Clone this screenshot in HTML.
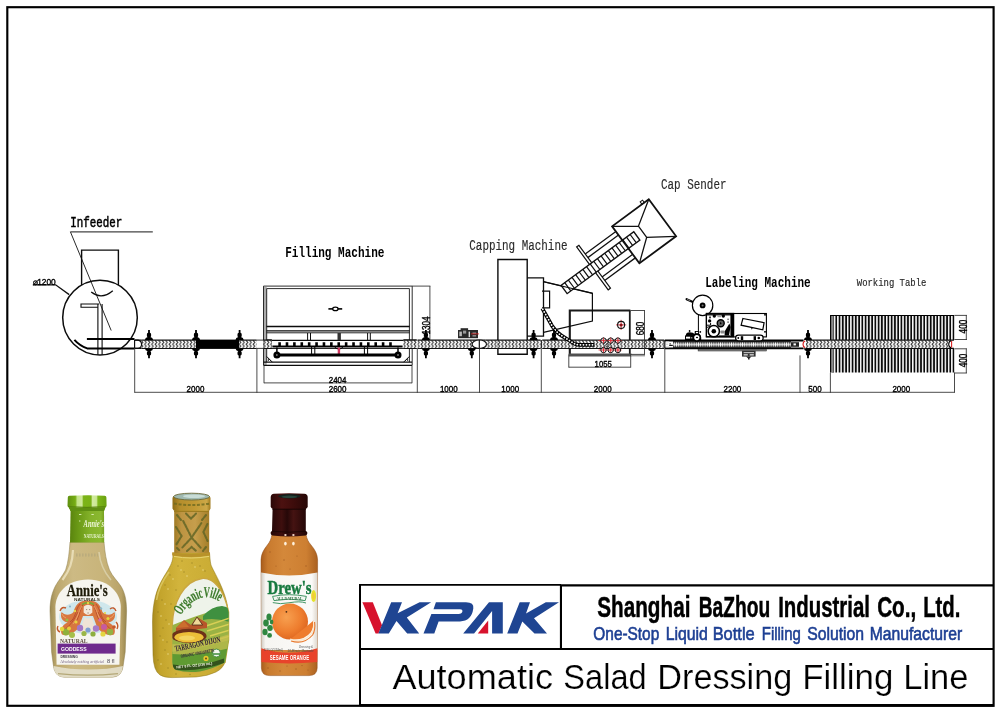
<!DOCTYPE html>
<html lang="en">
<head>
<meta charset="utf-8">
<title>Automatic Salad Dressing Filling Line</title>
<style>
html,body{margin:0;padding:0;background:#fff;}
body{width:1000px;height:715px;overflow:hidden;font-family:"Liberation Sans",sans-serif;}
svg{display:block;will-change:transform;}
.mono{font-family:"Liberation Mono",monospace;}
.serif{font-family:"Liberation Serif",serif;}
.sans{font-family:"Liberation Sans",sans-serif;}
.dim{font-family:"Liberation Sans",sans-serif;font-size:9.2px;fill:#000;stroke:#000;stroke-width:0.38px;}
.ln{stroke:#0c0c0c;stroke-width:1.15;fill:none;}
.thin{stroke:#333;stroke-width:0.88;fill:none;}
</style>
</head>
<body>
<svg width="1000" height="715" viewBox="0 0 1000 715">
<rect x="0" y="0" width="1000" height="715" fill="#ffffff"/>
<!-- frame -->
<g fill="none" stroke="#000">
<rect x="7.3" y="7.2" width="986.3" height="698.6" stroke-width="2.15"/>
<path d="M360,706 V584 " stroke-width="2"/>
<path d="M359,584.85 H561" stroke-width="1.75"/>
<path d="M560,585.4 H993.6" stroke-width="2.4"/>
<path d="M360,648.95 H993.6" stroke-width="1.9"/>
<path d="M560.95,585 V649.2" stroke-width="2.1"/>
<path d="M360,705.3 H993.6" stroke-width="2.6"/>
</g>
<!-- bottles -->
<defs>
<linearGradient id="b1body" x1="0" x2="1" y1="0" y2="0">
<stop offset="0" stop-color="#9c8a54"/><stop offset="0.08" stop-color="#bba66c"/><stop offset="0.3" stop-color="#cdba84"/>
<stop offset="0.7" stop-color="#c8b47a"/><stop offset="0.93" stop-color="#b8a268"/><stop offset="1" stop-color="#98864e"/>
</linearGradient>
<linearGradient id="b1cap" x1="0" x2="1" y1="0" y2="0">
<stop offset="0" stop-color="#5f9010"/><stop offset="0.2" stop-color="#76ad14"/><stop offset="0.25" stop-color="#c4e48a"/><stop offset="0.37" stop-color="#cfe99a"/><stop offset="0.41" stop-color="#7cb418"/>
<stop offset="0.6" stop-color="#7ab216"/><stop offset="0.64" stop-color="#d2eba0"/><stop offset="0.74" stop-color="#cbe794"/><stop offset="0.78" stop-color="#7db81a"/><stop offset="1" stop-color="#6aa010"/>
</linearGradient>
<linearGradient id="b1neck" x1="0" x2="1" y1="0" y2="0">
<stop offset="0" stop-color="#5a840e"/><stop offset="0.25" stop-color="#6b9a16"/><stop offset="0.6" stop-color="#84b22a"/><stop offset="0.9" stop-color="#8ab830"/><stop offset="1" stop-color="#769f20"/>
</linearGradient>
<linearGradient id="b2body" x1="0" x2="1" y1="0" y2="0">
<stop offset="0" stop-color="#a98a1e"/><stop offset="0.1" stop-color="#c3a42c"/><stop offset="0.35" stop-color="#d2b43c"/>
<stop offset="0.8" stop-color="#caac34"/><stop offset="1" stop-color="#b09224"/>
</linearGradient>
<linearGradient id="b2neck" x1="0" x2="1" y1="0" y2="0">
<stop offset="0" stop-color="#a07a24"/><stop offset="0.2" stop-color="#bd9442"/><stop offset="0.6" stop-color="#c69e4c"/><stop offset="1" stop-color="#a47e28"/>
</linearGradient>
<linearGradient id="b2cap" x1="0" x2="1" y1="0" y2="0">
<stop offset="0" stop-color="#8e6c16"/><stop offset="0.2" stop-color="#b58e2c"/><stop offset="0.6" stop-color="#c29a34"/><stop offset="0.9" stop-color="#cda848"/><stop offset="1" stop-color="#a07a1c"/>
</linearGradient>
<linearGradient id="b3body" x1="0" x2="1" y1="0" y2="0">
<stop offset="0" stop-color="#a85c1c"/><stop offset="0.12" stop-color="#c87a2e"/><stop offset="0.4" stop-color="#d4883a"/>
<stop offset="0.8" stop-color="#cd7f32"/><stop offset="1" stop-color="#aa6020"/>
</linearGradient>
<linearGradient id="b3cap" x1="0" x2="1" y1="0" y2="0">
<stop offset="0" stop-color="#2a0807"/><stop offset="0.3" stop-color="#4c1110"/><stop offset="0.6" stop-color="#3e0c0b"/><stop offset="1" stop-color="#260706"/>
</linearGradient>
<linearGradient id="b3neck" x1="0" x2="1" y1="0" y2="0">
<stop offset="0" stop-color="#240707"/><stop offset="0.3" stop-color="#3e0f0e"/><stop offset="0.45" stop-color="#260808"/><stop offset="0.62" stop-color="#451312"/><stop offset="1" stop-color="#200606"/>
</linearGradient>
<linearGradient id="b3label" x1="0" x2="1" y1="0" y2="0">
<stop offset="0" stop-color="#cfc9c0"/><stop offset="0.08" stop-color="#f6f5f1"/><stop offset="0.9" stop-color="#fbfaf8"/><stop offset="1" stop-color="#ddd6cc"/>
</linearGradient>
<radialGradient id="orange" cx="0.4" cy="0.38" r="0.7">
<stop offset="0" stop-color="#f7a050"/><stop offset="0.6" stop-color="#ee7d2e"/><stop offset="1" stop-color="#d9601c"/>
</radialGradient>
<clipPath id="b2clip"><path d="M173,553 C173,560 172,563 168,570 C163,578 158,586 155.5,596 C153.5,604 152.5,612 152.5,622 L153,655 Q153.5,671 160,675 Q164,677.6 172,677.6 L196,677 Q208,676 216,672 Q223,668.5 225,662 L228,640 L228.5,620 C228.5,606 226,598 222,588 C218,578 213,570 211,565 C210,561 210,557 209.5,553 Z"/></clipPath>
<clipPath id="b1lab"><path d="M56.6,664.8 L55.4,607 C55.6,594 66,579.8 88,579.6 C110,579.8 120.6,594 120.8,607 L119.4,664.8 Z"/></clipPath>
<clipPath id="b2lab"><path d="M172.4,624 C173,604 183,581 202,578.5 C214,577.5 224,590 228.6,612 L228.6,640 L225,662.5 Q214,668.5 200,671.5 Q186,673 176,670 Q172.6,668.5 172.4,662 Z"/></clipPath>
</defs>
<g>
<path d="M70,542 L104,542 C104.8,552 106,561 109.5,570 C112.5,576.5 117.5,581 120.8,586 C124.5,592 126.6,599 126.6,611 L125.2,652 L123.4,664 Q122.4,677.2 112,677.2 L64.5,677.2 Q54.2,677.2 53.2,664 L51.6,652 L50,611 C50,599 52.4,592 55.4,586 C58.4,580.5 62.5,576 65.6,570 C68.4,562 69.3,552 70,542 Z" fill="url(#b1body)" stroke="#8c7c4a" stroke-width="0.7" stroke-opacity="0.7"/>
<path d="M53.6,666 Q70,669.5 88,669.5 Q108,669.5 123,666 Q122,677.2 112,677.2 L64.5,677.2 Q54.4,677.2 53.6,666 Z" fill="#e4e0cc" opacity="0.9"/>
<path d="M58,673.6 Q88,676.8 118,673.6" stroke="#b4a878" stroke-width="1.2" fill="none"/>
<path d="M73,550 C72.5,562 70,570 62.5,580" stroke="#ece2be" stroke-width="2.2" fill="none" opacity="0.85"/>
<path d="M99,552 C100,563 103,571 111,580" stroke="#e0d8b8" stroke-width="1.6" fill="none" opacity="0.7"/>
<path d="M76,555 h22" stroke="#b3a67c" stroke-width="3" stroke-dasharray="1.6 1.4" fill="none" opacity="0.7"/>
<path d="M70.6,510 L104,510 L104.2,542.6 L70,542.6 Z" fill="url(#b1neck)"/>
<path d="M67.8,497.4 Q67.8,495.9 69.4,495.8 Q87,494.8 104.8,495.7 Q106.4,495.8 106.4,497.4 L106.6,505.8 Q106.4,507 105.4,507.4 L104,511 L70.6,511 L68.8,507.4 Q67.6,507 67.5,505.8 Z" fill="url(#b1cap)"/>
<path d="M68.8,507.4 L70.6,511 L104,511 L105.4,507.4 Z" fill="#5f8f12"/>
<path d="M68.6,506.7 Q87,508 105.4,506.7" stroke="#55800c" stroke-width="1" fill="none"/>
<text x="83.6" y="527.4" class="serif" font-size="10.6" font-weight="bold" font-style="italic" fill="#eef6d8" textLength="20.4" lengthAdjust="spacingAndGlyphs">Annie&#39;s</text>
<text x="83.8" y="538.2" class="serif" font-size="5.4" font-weight="bold" fill="#e6f1cf" textLength="20" lengthAdjust="spacingAndGlyphs">NATURALS</text>
<path d="M79,514.5 h2.4 M91.4,514.5 h2.4 M79,521 h1.4" stroke="#d4e9a8" stroke-width="1.1"/>
<path d="M56.6,664.8 L55.4,607 C55.6,594 66,579.8 88,579.6 C110,579.8 120.6,594 120.8,607 L119.4,664.8 Z" fill="#f6f5ef"/>
<g clip-path="url(#b1lab)">
<ellipse cx="88" cy="617" rx="29" ry="17" fill="#cfe7ec"/>
<path d="M88,600.6 C79,600 75,606 73.6,612 C70,616 64,615 61.6,612 C59.6,617 62.6,622 67.6,622.4 C62,625 59.6,630 62,634.6 C68,636.6 74,633 78.6,628 L83,616 L93,616 L97.4,628 C102,633 108,636.6 114,634.6 C116.4,630 114,625 108.4,622.4 C113.4,622 116.4,617 114.4,612 C112,615 106,616 102.4,612 C101,606 97,600 88,600.6 Z" fill="#d8773f"/>
<g stroke="#b4452a" stroke-width="0.9" fill="none" opacity="0.9"><path d="M80,604 C75,610 76,618 70,622 M96,604 C101,610 100,618 106,622 M78,612 C74,620 70,626 64,630 M98,612 C102,620 106,626 112,630 M84,603 C80,608 80,614 77,620 M92,603 C96,608 96,614 99,620"/></g>
<g stroke="#f1b27c" stroke-width="0.8" fill="none" opacity="0.9"><path d="M82,606 C78,612 78,618 73,624 M94,606 C98,612 98,618 103,624 M66,618 q-3,-1 -4,-4 M110,618 q3,-1 4,-4"/></g>
<path d="M60,611 q2,-5 6,-3 M110,609 q4,-3 6,2 M58,626 q-2,4 2,6 M116,622 q3,3 1,7" stroke="#c25a2c" stroke-width="1.4" fill="none"/>
<path d="M83.8,606.4 Q88,603.2 92.2,606.4 L92.4,612.6 Q88,617.4 83.6,612.6 Z" fill="#f3e8da"/>
<path d="M86,609.6 h1.2 M89,609.6 h1.2 M87.4,613 h1.4" stroke="#6a4a3a" stroke-width="0.6"/>
<path d="M84.5,617 L79.6,632 L96.4,632 L91.5,617 Q88,620 84.5,617 Z" fill="#efe4d6"/>
<path d="M82,604.4 q6,-3.6 12,0" stroke="#7aa838" stroke-width="1.6" fill="none"/>
<circle cx="88" cy="603" r="1.2" fill="#e8d040"/>
<circle cx="66" cy="632" r="3.4" fill="#8fb03c"/>
<circle cx="72" cy="635" r="3" fill="#a5bf4a"/>
<circle cx="62" cy="629" r="2.2" fill="#e6d83a"/>
<circle cx="69" cy="628.5" r="2" fill="#e7cf3c"/>
<circle cx="80" cy="628" r="3.2" fill="#a377c6"/>
<circle cx="96" cy="628.5" r="3.2" fill="#a77bc8"/>
<circle cx="88" cy="630" r="2.6" fill="#7f9fd0"/>
<circle cx="84" cy="633.5" r="2.6" fill="#9bb648"/>
<circle cx="93" cy="634" r="2.6" fill="#8eae3e"/>
<circle cx="104" cy="627" r="3" fill="#c65aa0"/>
<circle cx="110" cy="632" r="3.2" fill="#94b242"/>
<circle cx="103" cy="634" r="2.6" fill="#e3d640"/>
<circle cx="76" cy="622" r="1.6" fill="#e8d23e"/>
<circle cx="100" cy="620" r="1.8" fill="#d66aa8"/>
<circle cx="108" cy="618.5" r="1.6" fill="#e4d43c"/>
<circle cx="67" cy="620" r="1.5" fill="#9cbc44"/>
<circle cx="114" cy="627" r="1.8" fill="#c45a2c"/>
<circle cx="75" cy="611" r="1.2" fill="#e8d84a"/>
<circle cx="101" cy="608.5" r="1.2" fill="#8cb8c8"/>
<circle cx="70" cy="606.5" r="1" fill="#88b0c4"/>
<circle cx="105" cy="613" r="1.1" fill="#e6d646"/>
</g>
<text x="66.8" y="596.4" class="serif" font-size="16.4" font-weight="bold" fill="#1d1a08" stroke="#1d1a08" stroke-width="0.3" textLength="41" lengthAdjust="spacingAndGlyphs">Annie&#39;s</text>
<text x="74" y="601.2" class="sans" font-size="3.4" font-weight="bold" fill="#3c3a2a" textLength="26" lengthAdjust="spacingAndGlyphs">NATURALS</text>
<text x="60" y="642.6" class="serif" font-size="6" font-weight="bold" fill="#5b4a40" textLength="27.6" lengthAdjust="spacingAndGlyphs">NATURAL</text>
<rect x="57.6" y="643.6" width="58" height="10" fill="#6f2b8d"/>
<text x="61" y="651.4" class="sans" font-size="6" font-weight="bold" fill="#fff" textLength="25.6" lengthAdjust="spacingAndGlyphs">GODDESS</text>
<text x="60.4" y="657.8" class="sans" font-size="2.8" font-weight="bold" fill="#3a3440" textLength="17.4" lengthAdjust="spacingAndGlyphs">DRESSING</text>
<text x="60.2" y="662.6" class="serif" font-size="4.6" font-style="italic" fill="#6d5a7e" textLength="43.6" lengthAdjust="spacingAndGlyphs">Absolutely nothing artificial</text>
<text x="107" y="662.6" class="sans" font-size="4.6" fill="#4a4450" textLength="7.6" lengthAdjust="spacingAndGlyphs">8 fl</text>
</g>
<g>
<path d="M173,553 C173,560 172,563 168,570 C163,578 158,586 155.5,596 C153.5,604 152.5,612 152.5,622 L153,655 Q153.5,671 160,675 Q164,677.6 172,677.6 L196,677 Q208,676 216,672 Q223,668.5 225,662 L228,640 L228.5,620 C228.5,606 226,598 222,588 C218,578 213,570 211,565 C210,561 210,557 209.5,553 Z" fill="url(#b2body)" stroke="#8a7212" stroke-width="0.7" stroke-opacity="0.7"/>
<g fill="#7a6a18" opacity="0.55"><circle cx="165" cy="585" r="0.7"/><circle cx="170" cy="575" r="0.7"/><circle cx="178" cy="566" r="0.7"/><circle cx="184" cy="572" r="0.7"/><circle cx="192" cy="563" r="0.7"/><circle cx="200" cy="566" r="0.7"/><circle cx="162" cy="600" r="0.7"/><circle cx="158" cy="612" r="0.7"/><circle cx="166" cy="620" r="0.7"/><circle cx="160" cy="636" r="0.7"/><circle cx="165" cy="650" r="0.7"/><circle cx="158" cy="660" r="0.7"/><circle cx="168" cy="668" r="0.7"/><circle cx="176" cy="674" r="0.7"/><circle cx="190" cy="674.5" r="0.7"/><circle cx="182" cy="561" r="0.7"/><circle cx="205" cy="571" r="0.7"/><circle cx="176" cy="590" r="0.7"/><circle cx="171" cy="604" r="0.7"/><circle cx="163" cy="628" r="0.7"/><circle cx="167" cy="642" r="0.7"/></g>
<g fill="#f0e6a0" opacity="0.8"><circle cx="168" cy="589" r="0.7"/><circle cx="173" cy="579" r="0.7"/><circle cx="181" cy="570" r="0.7"/><circle cx="187" cy="576" r="0.7"/><circle cx="195" cy="567" r="0.7"/><circle cx="203" cy="570" r="0.7"/><circle cx="165" cy="604" r="0.7"/><circle cx="161" cy="616" r="0.7"/><circle cx="169" cy="624" r="0.7"/><circle cx="163" cy="640" r="0.7"/><circle cx="168" cy="654" r="0.7"/><circle cx="161" cy="664" r="0.7"/></g>
<path d="M156.6,600 C158,590 163,580 169,572" stroke="#e2d070" stroke-width="1.6" fill="none" opacity="0.7"/>
<rect x="174.2" y="510" width="35" height="43" fill="url(#b2neck)"/>
<g stroke="#5f6424" stroke-width="2.1" fill="none" opacity="0.82" stroke-dasharray="3 1.3" stroke-linecap="round">
<path d="M183.2,521 L191.6,537.6 L201.4,523 M191.6,537.6 L182.4,547.4 M191.6,537.6 L200.6,547.6 M176,527 L181.6,536 L176,545 M207.4,524 L203.4,532 L207.6,541 M177,548 l3,3 M206,547 l-3,4 M186,513.6 l5,5 l5,-5 M177,515 l4,5 M206,515 l-4,5 M187,551 l4.6,-4 l4.6,4"/>
</g>
<path d="M172.2,552.2 Q191,555.6 210,552.2 L210,555.4 Q191,558.6 172.2,555.4 Z" fill="#b8922a"/>
<path d="M174,556.4 Q191,559.6 209,556.4" stroke="#e8d474" stroke-width="1" fill="none"/>
<path d="M172.5,498 Q172.5,496 175,495.6 L208,495.6 Q210.5,496 210.5,498 L210.5,508.6 Q210,510.8 208,511 L175.6,511 Q173,510.8 172.5,508.6 Z" fill="url(#b2cap)"/>
<path d="M174,503.5 Q192,506.6 210,503.5" stroke="#6e6a20" stroke-width="2" fill="none" stroke-dasharray="3 1.6" opacity="0.8"/>
<path d="M174,511.4 H209" stroke="#9a7a1e" stroke-width="1"/>
<ellipse cx="191.6" cy="496.6" rx="18" ry="3.4" fill="#9fb9b0" stroke="#6c6a3a" stroke-width="0.9"/>
<ellipse cx="194" cy="496.2" rx="11" ry="1.8" fill="#c8dcd6"/>
<path d="M172.4,624 C173,604 183,581 202,578.5 C214,577.5 224,590 228.6,612 L228.6,640 L225,662.5 Q214,668.5 200,671.5 Q186,673 176,670 Q172.6,668.5 172.4,662 Z" fill="#eef3ea" stroke="#caa640" stroke-width="1.3"/>
<g clip-path="url(#b2lab)">
<path d="M170,626 Q190,618 206,613 Q220,610 230,612 L230,660 L170,668 Z" fill="#9ab244"/>
<path d="M203,616 Q212,606 222,606 Q228,607 230,610 L230,622 Q214,617 203,620 Z" fill="#3f9040"/>
<g stroke="#d9cf55" stroke-width="1.4" fill="none"><path d="M206,626 L230,618 M207,631 L230,624 M210,636 L230,630 M213,641 L230,636"/></g>
<path d="M176,628 L184,620 L191,625 L197,617 L207,623 L207,628 L176,632 Z" fill="#b8562a"/>
<path d="M192,625 L197,617 L202.6,625 Z" fill="#efd898" stroke="#4a2a14" stroke-width="0.8"/>
<path d="M176,628 L184,621 L189,627" fill="#cc6e2e"/>
<ellipse cx="189" cy="636" rx="17.6" ry="7.2" fill="#6e3218"/>
<ellipse cx="189" cy="637.2" rx="14.6" ry="5.2" fill="#ecbf38"/>
<ellipse cx="187" cy="638" rx="8" ry="2.6" fill="#f3d560"/>
<path d="M170,652 Q196,650 230,640 L230,668 L170,676 Z" fill="#5f9a32"/>
<path d="M170,644 Q196,646 230,634 L230,648 Q200,656 170,654 Z" fill="#c8c050" opacity="0.75"/>
<circle cx="206" cy="658.4" r="2.6" fill="#e9c52e"/><circle cx="206" cy="658.4" r="1" fill="#6a4a14"/>
<circle cx="216.4" cy="653" r="4" fill="#f4f6ee" stroke="#3f8a3a" stroke-width="0.9"/>
<path d="M213,654 h7" stroke="#3f8a3a" stroke-width="1.4"/>
<path d="M173,664.6 Q198,668 224,658.6 L224,663 Q198,672.6 173,669.6 Z" fill="#33521c"/>
</g>
<path id="ovArc" d="M179.6,617.4 Q189.6,599.6 204.6,597 Q214,596.6 222,603.6" fill="none"/>
<text class="serif" font-size="15" font-weight="bold" fill="#3b7a2a" stroke="#3b7a2a" stroke-width="0.2"><textPath href="#ovArc" startOffset="2.4" textLength="46.6" lengthAdjust="spacingAndGlyphs">OrganicVille</textPath></text>
<text transform="translate(175.4,651.6) rotate(-12)" class="serif" font-size="8.4" font-weight="bold" fill="#2e2036" textLength="46.4" lengthAdjust="spacingAndGlyphs">TARRAGON DIJON</text>
<text transform="translate(181,657.8) rotate(-10)" class="sans" font-size="4.6" font-weight="bold" fill="#33263a" textLength="34" lengthAdjust="spacingAndGlyphs">ORGANIC VINAIGRETTE</text>
<text transform="translate(176.6,668.4) rotate(-6)" class="sans" font-size="3.6" font-weight="bold" fill="#f2f2e2" textLength="36" lengthAdjust="spacingAndGlyphs">NET 8 FL OZ (236 mL)</text>
</g>
<g>
<path d="M272,534 L306,534 C306.6,539 308.5,542 311,545 C314.6,549.4 317.4,553.5 317.6,560 L317.2,668 Q317,675.6 309,675.6 L269.6,675.6 Q261.6,675.6 261.4,668 L261,560 C261.2,553.5 264,549.4 267.4,545 C269.8,542 271.4,539 272,534 Z" fill="url(#b3body)" stroke="#8a4812" stroke-width="0.7" stroke-opacity="0.7"/>
<g fill="#8a4a1a" opacity="0.6"><circle cx="270" cy="552" r="0.7"/><circle cx="284" cy="560" r="0.7"/><circle cx="297" cy="556" r="0.6"/><circle cx="306" cy="566" r="0.7"/><circle cx="276" cy="566" r="0.6"/><circle cx="290" cy="569" r="0.6"/><circle cx="268" cy="668" r="0.7"/><circle cx="280" cy="671" r="0.7"/><circle cx="296" cy="669" r="0.7"/><circle cx="308" cy="670" r="0.6"/><circle cx="287" cy="666" r="0.6"/><circle cx="302" cy="665.6" r="0.6"/></g>
<ellipse cx="285.4" cy="543.6" rx="1.3" ry="1.9" fill="#fff1dc"/><ellipse cx="293.4" cy="543.6" rx="1.3" ry="1.9" fill="#fff1dc"/>
<path d="M272.6,508.4 H305.8 V531 Q307.4,531.4 307.4,533 Q307.4,535 305.6,535.4 Q289,537.6 272.4,535.4 Q270.6,535 270.6,533 Q270.6,531.4 272,531 Z" fill="url(#b3neck)"/>
<path d="M272.4,531.4 Q289,533 305.6,531.4" stroke="#1c0605" stroke-width="0.9" fill="none"/>
<ellipse cx="285.4" cy="535" rx="1.2" ry="0.9" fill="#f2d6c8"/><ellipse cx="293.4" cy="535" rx="1.2" ry="0.9" fill="#f2d6c8"/>
<path d="M270.7,497 Q270.9,494.2 274,493.8 Q289,492.6 304.4,493.8 Q307.5,494.2 307.7,497 L307.7,506.6 Q307.5,508.6 305.6,509 L273,509 Q270.9,508.6 270.7,506.6 Z" fill="url(#b3cap)"/>
<ellipse cx="289.4" cy="496.2" rx="11.4" ry="2.2" fill="#14201c"/>
<ellipse cx="289.4" cy="496.8" rx="8" ry="1.2" fill="#27443a"/>
<path d="M272.4,509.2 H306" stroke="#1a0504" stroke-width="1"/>
<path d="M261.1,572.6 Q289,578.6 317.5,572.6 L317.3,650 L261.3,650 Z" fill="url(#b3label)"/>
<path d="M261.3,648.2 Q289,657.4 317.3,648.2 L317.2,662 Q289,664.8 261.4,662 Z" fill="#e8432b"/>
<path d="M261.3,648.8 L261.3,650.4 L317.3,650.4 L317.3,648.8 Z" fill="#e8432b" opacity="0"/>
<text x="269.8" y="660.3" class="sans" font-size="6.4" font-weight="bold" fill="#fff" textLength="39.4" lengthAdjust="spacingAndGlyphs">SESAME ORANGE</text>
<text x="264" y="651.2" class="sans" font-size="3.4" fill="#4a4a4a" textLength="19" lengthAdjust="spacingAndGlyphs">12 FL OZ (354mL)</text>
<text x="287.6" y="651.6" class="sans" font-size="3.6" font-style="italic" fill="#4a4a4a" textLength="26" lengthAdjust="spacingAndGlyphs">10-Minute Marinade</text>
<text x="299" y="647.6" class="sans" font-size="3.6" font-style="italic" fill="#555" textLength="14" lengthAdjust="spacingAndGlyphs">Dressing &amp;</text>
<text x="267.6" y="593.6" class="serif" font-size="19" font-weight="bold" fill="#17793f" stroke="#17793f" stroke-width="0.5" textLength="44" lengthAdjust="spacingAndGlyphs">Drew&#39;s</text>
<path d="M272.6,596.4 Q289,593 306.4,596.4 L305.2,600.6 Q289,597.6 274,600.6 Z" fill="#f3f7f1" stroke="#2f8a55" stroke-width="0.9"/>
<path d="M272.8,602.6 Q280,604.6 289,602.8 Q300,600.8 306,603" stroke="#2f8a55" stroke-width="0.9" fill="none"/>
<text x="276.4" y="599.6" class="serif" font-size="3.8" font-weight="bold" fill="#2a6a3c" textLength="26" lengthAdjust="spacingAndGlyphs">ALL NATURAL</text>
<ellipse cx="313.6" cy="596" rx="2.5" ry="6" fill="#e6e32c"/><ellipse cx="313.4" cy="596" rx="1.2" ry="3.6" fill="#f3c83a"/>
<circle cx="290" cy="621.6" r="18" fill="url(#orange)"/>
<circle cx="286.4" cy="611.8" r="0.9" fill="#4a2a12"/>
<path d="M290.4,639.2 Q304,641 311,632 Q314,627 313.6,620.6 Q305,628 290.4,639.2 Z" fill="#ee7c2e"/>
<path d="M290,639.2 Q303,643.4 311,634 Q314.4,629 313.6,621" stroke="#fbe9d0" stroke-width="1.3" fill="none"/>
<path d="M291,641 Q304,645 312.6,635 Q315.6,630 314.6,622" stroke="#e8772a" stroke-width="1.1" fill="none"/>
<g fill="#2f8740"><ellipse cx="269" cy="617" rx="2.6" ry="3.6"/><ellipse cx="266" cy="623" rx="2.8" ry="3.4"/><ellipse cx="270" cy="628" rx="2.8" ry="3"/><ellipse cx="265" cy="632" rx="2.6" ry="3.2"/><ellipse cx="269.6" cy="635.4" rx="2.4" ry="2.4"/><ellipse cx="271.6" cy="622" rx="1.8" ry="2.4"/></g>
</g>
<!-- technical drawing -->
<defs>
<pattern id="chain" x="0.2" y="340.1" width="3.5" height="8.3" patternUnits="userSpaceOnUse">
<rect width="3.5" height="8.3" fill="#fff"/>
<path d="M0.9,0.4 L2.6,2.3 L0.9,4.15 L2.6,6 L0.9,7.9" stroke="#262626" stroke-width="1" fill="none"/>
</pattern>
<pattern id="belt" x="0" y="340.1" width="2.2" height="8.3" patternUnits="userSpaceOnUse">
<rect width="2.2" height="8.4" fill="#444"/>
<path d="M1.1,1.9 L2.1,4.4 L1.1,6.9 L0.1,4.4 Z" fill="#fafafa"/>
</pattern>
<pattern id="bars" x="830.62" y="315" width="3.257" height="10" patternUnits="userSpaceOnUse">
<rect width="3.257" height="10" fill="#fafafa"/>
<rect x="1.5" width="1.76" height="10" fill="#0a0a0a"/>
</pattern>
</defs>
<text class="mono" x="70.2" y="226.6" font-size="13.8" font-weight="normal" fill="#000" stroke="#000" stroke-width="0.5" textLength="52" lengthAdjust="spacingAndGlyphs">Infeeder</text>
<text class="mono" x="285.2" y="257.4" font-size="13.8" font-weight="bold" fill="#000" textLength="99.2" lengthAdjust="spacingAndGlyphs">Filling Machine</text>
<text class="mono" x="469.3" y="250" font-size="13.8" font-weight="normal" fill="#2a2a2a" stroke="#2a2a2a" stroke-width="0.15" textLength="98.2" lengthAdjust="spacingAndGlyphs">Capping Machine</text>
<text class="mono" x="661" y="189" font-size="13.8" font-weight="normal" fill="#2a2a2a" stroke="#2a2a2a" stroke-width="0.15" textLength="65.5" lengthAdjust="spacingAndGlyphs">Cap Sender</text>
<text class="mono" x="705.2" y="287.4" font-size="13.8" font-weight="bold" fill="#000" textLength="105.5" lengthAdjust="spacingAndGlyphs">Labeling Machine</text>
<text class="mono" x="856.8" y="285.7" font-size="10.9" font-weight="normal" fill="#262626" stroke="#262626" stroke-width="0.15" textLength="69.6" lengthAdjust="spacingAndGlyphs">Working Table</text>
<g class="ln">
<path d="M70.4,231.8 H152.8" stroke-width="1.3" stroke="#444"/>
<path d="M70.4,231.8 L111.2,330.5" stroke-width="1" stroke="#2a2a2a"/>
<path d="M81.6,284.9 V250.1 H118.4 V284.9" stroke-width="1.4"/>
<circle cx="100" cy="317.6" r="37.3" stroke-width="1.5"/>
<path d="M91.2,292 Q101.6,300.2 112.8,290.7" stroke-width="1.3"/>
<path d="M99.2,304 H81 V307.2 H97.9" stroke-width="1.1"/>
<path d="M97.9,304 V354.7 M102.1,304 V354.7" stroke-width="1.1"/>
<path d="M86.9,339 H134.5" stroke-width="2" stroke="#000"/>
<path d="M74.4,339.8 Q79.4,345.4 87.2,348.4 H134.5" stroke-width="2" stroke="#000"/>
<path d="M32.8,284.8 H55.6 L69.2,294.6" stroke-width="1.3" stroke="#111"/>
</g>
<text class="dim" x="32.6" y="284.6" font-size="8.4" textLength="23.2" lengthAdjust="spacingAndGlyphs">⌀1200</text>
<path d="M569.8,354.4 V310.5 H630.4" stroke="#1a1a1a" stroke-width="2.1" fill="none"/>
<path d="M629.8,310.5 V354.4" stroke="#1a1a1a" stroke-width="1.8" fill="none"/>
<rect x="141.5" y="340.1" width="54.50" height="8.30" fill="url(#chain)"/><path d="M141.5,340.1 H196 M141.5,348.4 H196" stroke="#111" stroke-width="1.05" fill="none"/>
<path d="M134.6,340.1 V348.4 M134.6,340.1 H138 A4.2,4.2 0 0 1 138,348.4 H134.6" class="ln" stroke-width="1.1"/>
<path d="M134.6,340.1 H141.5 M134.6,348.4 H141.5" class="ln" stroke-width="1.1"/>
<rect x="196" y="339.6" width="43.4" height="9.299999999999955" fill="#000"/>
<rect x="239.4" y="340.1" width="17.20" height="8.30" fill="url(#chain)"/><path d="M239.4,340.1 H256.6 M239.4,348.4 H256.6" stroke="#111" stroke-width="1.05" fill="none"/>
<path d="M256.6,340.1 H263.6 M256.6,348.4 H263.6" stroke="#222" stroke-width="0.9" fill="none"/>
<rect x="263.6" y="340.1" width="8.20" height="8.30" fill="url(#chain)"/><path d="M263.6,340.1 H271.8 M263.6,348.4 H271.8" stroke="#111" stroke-width="1.05" fill="none"/>
<rect x="403.5" y="340.1" width="13.20" height="8.30" fill="url(#chain)"/><path d="M403.5,340.1 H416.7 M403.5,348.4 H416.7" stroke="#111" stroke-width="1.05" fill="none"/>
<rect x="417.5" y="340.1" width="56.50" height="8.30" fill="url(#chain)"/><path d="M417.5,340.1 H474 M417.5,348.4 H474" stroke="#111" stroke-width="1.05" fill="none"/>
<rect x="485.5" y="340.1" width="55.10" height="8.30" fill="url(#chain)"/><path d="M485.5,340.1 H540.6 M485.5,348.4 H540.6" stroke="#111" stroke-width="1.05" fill="none"/>
<rect x="542.2" y="340.1" width="122.00" height="8.30" fill="url(#chain)"/><path d="M542.2,340.1 H664.2 M542.2,348.4 H664.2" stroke="#111" stroke-width="1.05" fill="none"/>
<path d="M541.4,340.1 V348.4" stroke="#111" stroke-width="1"/>
<path d="M474,340.1 H485.5 M474,348.4 H485.5" class="ln" stroke-width="1.1"/>
<ellipse cx="479.3" cy="344.25" rx="7.2" ry="4.2" fill="#fff" stroke="#111" stroke-width="1.1"/>
<path d="M479.3,340.1 V348.4" class="ln" stroke-width="1"/>
<rect x="664.8" y="339.5" width="139" height="9.699999999999955" fill="#fff"/>
<rect x="673" y="340.1" width="118" height="8.299999999999955" fill="url(#belt)"/>
<path d="M664.8,340.40000000000003 H803.6" stroke="#000" stroke-width="2" fill="none"/>
<path d="M664.8,348.29999999999995 H803.6" stroke="#000" stroke-width="1.8" fill="none"/>
<rect x="665.6" y="341.3" width="3.6" height="1" fill="#cfcfcf"/><rect x="665.6" y="346.4" width="3.6" height="1" fill="#cfcfcf"/><rect x="666" y="343.6" width="2.2" height="1.3" fill="#d8d8d8"/><rect x="669.2" y="344.8" width="3.6" height="1.2" fill="#111"/><rect x="669.4" y="343.4" width="1.6" height="1" fill="#333"/>
<rect x="791" y="342.2" width="8" height="4.6" fill="#222"/><rect x="793.5" y="343.4" width="2.4" height="2" fill="#fff"/>
<path d="M664.8,340.1 V348.4" class="ln"/>
<rect x="806" y="340.1" width="24.20" height="8.30" fill="url(#chain)"/><path d="M806,340.1 H830.2 M806,348.4 H830.2" stroke="#111" stroke-width="1.05" fill="none"/>
<rect x="830.2" y="315.2" width="124.3" height="24.900000000000034" fill="url(#bars)"/>
<rect x="830.2" y="348.4" width="124.3" height="24.100000000000023" fill="url(#bars)"/>
<rect x="830.2" y="315.2" width="3.4" height="24.900000000000034" fill="#8a8a8a"/>
<rect x="830.2" y="348.4" width="3.4" height="24.100000000000023" fill="#8a8a8a"/>
<path d="M830.6,340.1 V315.5 H954 " stroke="#000" stroke-width="1.1" fill="none"/>
<path d="M830.6,348.4 V372.5" stroke="#000" stroke-width="1.1" fill="none"/>
<rect x="830.2" y="340.1" width="117.80" height="8.30" fill="url(#chain)"/><path d="M830.2,340.1 H948 M830.2,348.4 H948" stroke="#111" stroke-width="1.05" fill="none"/>
<path d="M948,340.1 H953.9 M948,348.4 H953.9" class="ln" stroke-width="1.1"/>
<path d="M951.3,340.5 A3.6,3.9 0 0 0 951.3,348.0" stroke="#000" stroke-width="1.1" fill="#fff"/>
<path d="M951.6,340.90000000000003 V347.59999999999997" stroke="#d22" stroke-width="1.1" fill="none"/>
<path d="M805.2,340.70000000000005 A3.4,3.8 0 0 0 805.2,347.79999999999995" stroke="#d22" stroke-width="1.2" fill="#fff"/>
<rect x="263.4" y="287" width="3.3" height="78" fill="#ababab"/>
<g class="ln" stroke="#111">
<path d="M263.5,365.4 V286.1 H412.2 V365.4" stroke-width="0.95" stroke="#222"/>
<path d="M266.7,362.2 V288.6 H409.4 V362.2" stroke-width="0.95" stroke="#222"/>
<path d="M266.5,326.5 H409.6 M266.5,330.8 H409.6" stroke-width="1.3"/>
<path d="M266.5,332.8 H409.6" stroke-width="0.9"/>
<path d="M266.5,340.40000000000003 H409.6" stroke-width="1.1"/>
<path d="M266.5,348.5 H409.6" stroke-width="0.9"/>
<path d="M307.6,333 V340 M310.5,333 V340 M367.6,333 V340 M370.3,333 V340" stroke-width="1"/>
<path d="M263.6,362.2 H412 M263.6,365.4 H412" stroke-width="1.2"/>
<path d="M266.6,356.4 L272.4,362.2 M409.4,356.4 L403.6,362.2" stroke-width="1"/>
<path d="M268.4,361 V358.4 L271,361 M407.6,361 V358.4 L405,361" stroke-width="0.8"/>
</g>
<rect x="337.5" y="333" width="3.4" height="7" fill="#333"/>
<rect x="263.4" y="340.1" width="8.40" height="8.30" fill="url(#chain)"/><path d="M263.4,340.1 H271.8 M263.4,348.4 H271.8" stroke="#111" stroke-width="1.05" fill="none"/>
<rect x="403.5" y="340.1" width="13.20" height="8.30" fill="url(#chain)"/><path d="M403.5,340.1 H416.7 M403.5,348.4 H416.7" stroke="#111" stroke-width="1.05" fill="none"/>
<path d="M328.4,308.9 H342.2" stroke="#000" stroke-width="1.6"/>
<ellipse cx="335.4" cy="308.9" rx="2.7" ry="1.7" fill="#fff" stroke="#000" stroke-width="1.2"/>
<path d="M272.4,346.5 H402.6" stroke="#000" stroke-width="1.9"/>
<path d="M278.30,342.3 h2.6 v4 h-2.6 z M285.69,342.3 h2.6 v4 h-2.6 z M293.09,342.3 h2.6 v4 h-2.6 z M300.48,342.3 h2.6 v4 h-2.6 z M307.87,342.3 h2.6 v4 h-2.6 z M315.26,342.3 h2.6 v4 h-2.6 z M322.66,342.3 h2.6 v4 h-2.6 z M330.05,342.3 h2.6 v4 h-2.6 z M337.44,342.3 h2.6 v4 h-2.6 z M344.84,342.3 h2.6 v4 h-2.6 z M352.23,342.3 h2.6 v4 h-2.6 z M359.62,342.3 h2.6 v4 h-2.6 z M367.02,342.3 h2.6 v4 h-2.6 z M374.41,342.3 h2.6 v4 h-2.6 z M381.80,342.3 h2.6 v4 h-2.6 z M389.19,342.3 h2.6 v4 h-2.6 z" fill="#000"/>
<path d="M311.6,346.4 V354.6 M314.8,346.4 V354.6 M364.4,346.4 V354.6 M367.6,346.4 V354.6" stroke="#000" stroke-width="1"/>
<path d="M334.5,346.8 Q336,349 338.8,349 Q341.6,349 343,346.8" stroke="#000" stroke-width="1" fill="none"/>
<path d="M338.9,347.6 V355.4" stroke="#d23a62" stroke-width="2.4"/>
<path d="M277,355 H398" stroke="#000" stroke-width="2.8"/>
<path d="M276.9,347.4 V352" stroke="#000" stroke-width="1.5"/>
<circle cx="276.9" cy="354.9" r="3.5" fill="#000"/><ellipse cx="276.9" cy="355" rx="0.55" ry="1" fill="#c8c8c8"/>
<path d="M398,347.4 V352" stroke="#000" stroke-width="1.5"/>
<circle cx="398" cy="354.9" r="3.5" fill="#000"/><ellipse cx="398" cy="355" rx="0.55" ry="1" fill="#c8c8c8"/>
<path d="M412,286.1 H430.4 M429.9,286.1 V340" class="thin"/>
<text class="dim" transform="translate(430.3,325.4) rotate(-90)" text-anchor="middle" textLength="18" lengthAdjust="spacingAndGlyphs" style="font-size:10px">1304</text>
<g>
<rect x="458" y="330" width="20" height="8.2" fill="#2a2a2a"/>
<rect x="460.6" y="328.2" width="7.5" height="3" fill="#2a2a2a"/>
<rect x="459.3" y="331.6" width="2.6" height="4.6" fill="#bbb"/>
<rect x="463" y="330.6" width="3.2" height="3" fill="#999"/>
<rect x="468.6" y="331.6" width="1.4" height="5.6" fill="#ddd"/>
<rect x="472.5" y="332.4" width="3.6" height="1.6" fill="#888"/>
<rect x="472.5" y="335" width="3.6" height="1.6" fill="#888"/>
<path d="M471,333.9 H479" stroke="#d22" stroke-width="0.8"/>
</g>
<g class="ln" stroke="#222">
<path d="M497.9,354.3 V259.5 H527.2 V354.3 Z" stroke-width="1.4" fill="#fff"/>
<path d="M527.2,277.8 H543.5 V336.1 H527.2" stroke-width="1.3"/>
<path d="M543.5,281.7 L592.4,293.3 V321 L543.5,332.3" stroke-width="1.2"/>
<path d="M542,291.1 H549.6 V307.8 H542" stroke-width="1.2"/>
</g>
<rect x="497.3" y="340.1" width="30.50" height="8.30" fill="url(#chain)"/><path d="M497.3,340.1 H527.8 M497.3,348.4 H527.8" stroke="#111" stroke-width="1.05" fill="none"/>
<path d="M542.3,308.4 L551.8,325.4 Q556,332 561.5,335.6 L574,343.5 Q576,344.8 579,344.8 H594.5" stroke="#000" stroke-width="3.8" fill="none" stroke-linejoin="round"/>
<path d="M542.3,308.4 L551.8,325.4 Q556,332 561.5,335.6 L574,343.5 Q576,344.8 579,344.8 H594.5" stroke="#fff" stroke-width="1.8" fill="none" stroke-dasharray="0.1 2.9" stroke-linecap="round" stroke-dashoffset="-1"/>
<path d="M568.8,355 H631.4" stroke="#505050" stroke-width="3"/>
<path d="M631.4,355.6 H645" stroke="#9a9a9a" stroke-width="1.6"/>
<g stroke="#d6202a" fill="none" stroke-width="0.8"><path d="M616,324.9 H626.2 M621.1,319.8 V330"/></g>
<circle cx="621.1" cy="324.9" r="3.5" fill="none" stroke="#111" stroke-width="1.1"/>
<circle cx="621.1" cy="324.9" r="1.5" fill="#8a1016"/>
<path d="M598.6,340.6 H621.6" stroke="#e0202a" stroke-width="0.8"/>
<path d="M603.5,337.40000000000003 V343.8" stroke="#e0202a" stroke-width="0.8"/>
<circle cx="603.5" cy="340.6" r="2.7" fill="#fff" fill-opacity="0.55" stroke="#111" stroke-width="1"/>
<path d="M601.3,340.6 H605.7 M603.5,338.40000000000003 V342.8" stroke="#e0202a" stroke-width="0.8"/>
<path d="M610.7,337.40000000000003 V343.8" stroke="#e0202a" stroke-width="0.8"/>
<circle cx="610.7" cy="340.6" r="2.7" fill="#fff" fill-opacity="0.55" stroke="#111" stroke-width="1"/>
<path d="M608.5,340.6 H612.9000000000001 M610.7,338.40000000000003 V342.8" stroke="#e0202a" stroke-width="0.8"/>
<path d="M617.9,337.40000000000003 V343.8" stroke="#e0202a" stroke-width="0.8"/>
<circle cx="617.9" cy="340.6" r="2.7" fill="#fff" fill-opacity="0.55" stroke="#111" stroke-width="1"/>
<path d="M615.6999999999999,340.6 H620.1 M617.9,338.40000000000003 V342.8" stroke="#e0202a" stroke-width="0.8"/>
<path d="M598.6,350 H621.6" stroke="#e0202a" stroke-width="0.8"/>
<path d="M603.5,346.8 V353.2" stroke="#e0202a" stroke-width="0.8"/>
<circle cx="603.5" cy="350" r="2.7" fill="#fff" fill-opacity="0.55" stroke="#111" stroke-width="1"/>
<path d="M601.3,350 H605.7 M603.5,347.8 V352.2" stroke="#e0202a" stroke-width="0.8"/>
<path d="M610.7,346.8 V353.2" stroke="#e0202a" stroke-width="0.8"/>
<circle cx="610.7" cy="350" r="2.7" fill="#fff" fill-opacity="0.55" stroke="#111" stroke-width="1"/>
<path d="M608.5,350 H612.9000000000001 M610.7,347.8 V352.2" stroke="#e0202a" stroke-width="0.8"/>
<path d="M617.9,346.8 V353.2" stroke="#e0202a" stroke-width="0.8"/>
<circle cx="617.9" cy="350" r="2.7" fill="#fff" fill-opacity="0.55" stroke="#111" stroke-width="1"/>
<path d="M615.6999999999999,350 H620.1 M617.9,347.8 V352.2" stroke="#e0202a" stroke-width="0.8"/>
<circle cx="607.4" cy="345.3" r="1.7" fill="none" stroke="#222" stroke-width="0.8"/>
<path d="M630.4,310.5 H645 M630.4,354.4 H645 M644.5,310.5 V354.4" class="thin"/>
<text class="dim" transform="translate(644.4,328.4) rotate(-90)" text-anchor="middle" textLength="13.6" lengthAdjust="spacingAndGlyphs" style="font-size:10px">680</text>
<path d="M568.8,354.4 V367.6 M630.7,354.4 V367.6 M568.8,367.2 H630.7" class="thin"/>
<text class="dim" x="603.2" y="367" text-anchor="middle" textLength="17.2" lengthAdjust="spacingAndGlyphs">1055</text>
<g transform="translate(561.1,285.4) rotate(-36.4)" stroke="#111" fill="none">
<path d="M38,-10.9 H76.1 M38,-6.5 H76.1 M38,17.5 H76.1 M38,21.9 H76.1" stroke-width="1.3"/>
<rect x="35.3" y="-21.7" width="2.8" height="53.2" stroke-width="1.2" fill="#fff"/>
<rect x="76.1" y="-17.3" width="45.6" height="46" stroke-width="1.8" fill="#fff"/>
<path d="M76.1,-17.3 L97.4,-1.8 L121.7,-17.3 M97.4,-1.8 V12.1 M76.1,28.7 L97.4,12.1 L121.7,28.7" stroke-width="1.3"/>
<rect x="113.2" y="-20.3" width="3" height="3" stroke-width="1"/>
<rect x="0" y="0" width="90.3" height="10.2" stroke-width="1.4" fill="#fff"/>
<path d="M4.51,0 V10.2 M9.03,0 V10.2 M13.54,0 V10.2 M18.06,0 V10.2 M22.57,0 V10.2 M27.09,0 V10.2 M31.61,0 V10.2 M36.12,0 V10.2 M40.63,0 V10.2 M45.15,0 V10.2 M49.66,0 V10.2 M54.18,0 V10.2 M58.69,0 V10.2 M63.21,0 V10.2 M67.72,0 V10.2 M72.24,0 V10.2 M76.75,0 V10.2 M81.27,0 V10.2 M85.78,0 V10.2" stroke-width="1.2"/>
<path d="M76.1,-1 V11.2" stroke-width="1.8"/>
</g>
<path d="M543.5,281.7 L592.4,293.3" class="ln" stroke="#111" stroke-width="1.2"/>
<g>
<circle cx="702.6" cy="305.4" r="10.2" fill="#fff" stroke="#000" stroke-width="1.2"/>
<circle cx="702.6" cy="305.4" r="2.9" fill="#000"/><circle cx="702.6" cy="305.4" r="1" fill="#777"/>
<path d="M686.6,299.2 L692.3,301.7" stroke="#000" stroke-width="2.2" stroke-linecap="round"/>
<path d="M687.4,299.5 L690,300.7" stroke="#aaa" stroke-width="0.7" stroke-linecap="round"/>
<path d="M698.4,314.7 V332.3" stroke="#000" stroke-width="1"/>
<rect x="706.4" y="313.5" width="60" height="23.4" fill="#fff" stroke="#000" stroke-width="1.1"/>
<rect x="706.4" y="313.5" width="27.2" height="2" fill="#222"/>
<circle cx="714.3" cy="316" r="1.7" fill="#000"/><circle cx="723.3" cy="316" r="1.7" fill="#000"/>
<rect x="717.4" y="315.6" width="3.6" height="1.6" fill="#999"/>
<path d="M710,315.6 l1,2.6 h-2 z" fill="#000"/>
<circle cx="709.6" cy="320.9" r="1.7" fill="#000"/>
<path d="M707,325.2 h3.6 v-2.2 M707,327.4 q3,-1.6 5.4,-0.6" stroke="#000" stroke-width="1" fill="none"/>
<rect x="727.2" y="318.6" width="1.8" height="1.5" fill="#888"/><rect x="727.2" y="321.4" width="1.8" height="1.5" fill="#888"/>
<path d="M729.4,323.6 L724.6,331.4 L724.6,335.6 L729,335.6 L730.6,327 Z" fill="#000"/>
<rect x="720.4" y="330.4" width="4.4" height="3.2" rx="1" fill="#8a8a8a"/>
<path d="M719,336 H730" stroke="#000" stroke-width="1.2"/>
<circle cx="720.7" cy="323.2" r="3.5" fill="#5c5c5c" stroke="#000" stroke-width="1.4"/><path d="M720,322 l1.8,1.2 l-1.8,1.2 z" fill="#000"/>
<circle cx="713.8" cy="331.2" r="5.6" fill="#fff" stroke="#000" stroke-width="1.5"/><circle cx="713.8" cy="331.2" r="2.3" fill="#000"/>
<rect x="730.4" y="314" width="3.2" height="22.6" fill="#000"/>
<rect x="706.4" y="313.5" width="27.2" height="23.2" fill="none" stroke="#000" stroke-width="1.3"/>
<polygon points="742.9,318.5 764.1,322.7 762.8,329.8 741.1,325.2" fill="#fff" stroke="#000" stroke-width="1.2"/>
<path d="M751,327.6 l1.6,0.3 l-0.8,1.8 z" fill="#000"/>
<rect x="764.2" y="314" width="1.6" height="1.6" fill="#000"/><rect x="764.2" y="331" width="1.6" height="1.6" fill="#000"/>
<rect x="735.6" y="335.2" width="27.6" height="5.6" rx="2.8" fill="#fff" stroke="#000" stroke-width="1.2"/>
<rect x="740.8" y="336.2" width="2.4" height="3.8" fill="#000"/><rect x="753.6" y="336.2" width="2.4" height="3.8" fill="#000"/><circle cx="758.8" cy="338" r="1.3" fill="#000"/><circle cx="738.3" cy="338" r="0.9" fill="#000"/>
<path d="M685,340.2 V336 Q685,335.4 685.8,335.2 Q686,332.4 689.6,332.2 Q693.4,332.4 694.6,334 L694.8,331 H699 V333.6 Q701.2,335.2 701.2,337.6 V340.2 Z" fill="#000"/>
<circle cx="689.6" cy="331" r="0.9" fill="#000"/><circle cx="700.3" cy="331.9" r="0.9" fill="#000"/>
<rect x="695.9" y="331.9" width="2.2" height="1.4" fill="#fff"/>
<rect x="686" y="336.7" width="4.2" height="1.9" fill="#fff"/><rect x="691" y="337" width="1.6" height="1.5" fill="#8a8a8a"/>
<circle cx="696.8" cy="337.6" r="4.2" fill="#000"/><circle cx="696.8" cy="337.6" r="2.6" fill="#fff"/><ellipse cx="697" cy="337.5" rx="1.1" ry="0.8" fill="#000"/>
<rect x="698.1" y="349.2" width="68.3" height="1.8" fill="#888" stroke="#222" stroke-width="0.5"/>
<rect x="742" y="350.8" width="13.6" height="5.8" fill="#333"/>
<rect x="743.6" y="352" width="10.4" height="1.2" fill="#bbb"/><rect x="743.6" y="354.2" width="4.2" height="1.3" fill="#ddd"/><rect x="749.6" y="354.2" width="4.2" height="1.3" fill="#ddd"/>
<path d="M746,356.6 h5.6 l-2,1.6 v1.4 h-1.6 v-1.4 z" fill="#222"/>
</g>
<path d="M148.10,330.1 h1.8 v2.6 q1.2,0.3 1.2,1.6 v1.6 q0,0.9 -0.8,1.2 q2.6,0.5 2.8,2.9 h-8.2 q0.2,-2.4 2.8,-2.9 q-0.8,-0.3 -0.8,-1.2 v-1.6 q0,-1.3 1.2,-1.6 z" fill="#000"/><path d="M148.10,358.2 h1.8 v-2.6 q1.2,-0.3 1.2,-1.6 v-1.6 q0,-0.9 -0.8,-1.2 q2.6,-0.5 2.8,-2.9 h-8.2 q0.2,2.4 2.8,2.9 q-0.8,0.3 -0.8,1.2 v1.6 q0,1.3 1.2,1.6 z" fill="#000"/>
<path d="M195.10,330.1 h1.8 v2.6 q1.2,0.3 1.2,1.6 v1.6 q0,0.9 -0.8,1.2 q2.6,0.5 2.8,2.9 h-8.2 q0.2,-2.4 2.8,-2.9 q-0.8,-0.3 -0.8,-1.2 v-1.6 q0,-1.3 1.2,-1.6 z" fill="#000"/><path d="M195.10,358.2 h1.8 v-2.6 q1.2,-0.3 1.2,-1.6 v-1.6 q0,-0.9 -0.8,-1.2 q2.6,-0.5 2.8,-2.9 h-8.2 q0.2,2.4 2.8,2.9 q-0.8,0.3 -0.8,1.2 v1.6 q0,1.3 1.2,1.6 z" fill="#000"/>
<path d="M238.70,330.1 h1.8 v2.6 q1.2,0.3 1.2,1.6 v1.6 q0,0.9 -0.8,1.2 q2.6,0.5 2.8,2.9 h-8.2 q0.2,-2.4 2.8,-2.9 q-0.8,-0.3 -0.8,-1.2 v-1.6 q0,-1.3 1.2,-1.6 z" fill="#000"/><path d="M238.70,358.2 h1.8 v-2.6 q1.2,-0.3 1.2,-1.6 v-1.6 q0,-0.9 -0.8,-1.2 q2.6,-0.5 2.8,-2.9 h-8.2 q0.2,2.4 2.8,2.9 q-0.8,0.3 -0.8,1.2 v1.6 q0,1.3 1.2,1.6 z" fill="#000"/>
<path d="M532.70,330.1 h1.8 v2.6 q1.2,0.3 1.2,1.6 v1.6 q0,0.9 -0.8,1.2 q2.6,0.5 2.8,2.9 h-8.2 q0.2,-2.4 2.8,-2.9 q-0.8,-0.3 -0.8,-1.2 v-1.6 q0,-1.3 1.2,-1.6 z" fill="#000"/><path d="M532.70,358.2 h1.8 v-2.6 q1.2,-0.3 1.2,-1.6 v-1.6 q0,-0.9 -0.8,-1.2 q2.6,-0.5 2.8,-2.9 h-8.2 q0.2,2.4 2.8,2.9 q-0.8,0.3 -0.8,1.2 v1.6 q0,1.3 1.2,1.6 z" fill="#000"/>
<path d="M553.10,330.1 h1.8 v2.6 q1.2,0.3 1.2,1.6 v1.6 q0,0.9 -0.8,1.2 q2.6,0.5 2.8,2.9 h-8.2 q0.2,-2.4 2.8,-2.9 q-0.8,-0.3 -0.8,-1.2 v-1.6 q0,-1.3 1.2,-1.6 z" fill="#000"/><path d="M553.10,358.2 h1.8 v-2.6 q1.2,-0.3 1.2,-1.6 v-1.6 q0,-0.9 -0.8,-1.2 q2.6,-0.5 2.8,-2.9 h-8.2 q0.2,2.4 2.8,2.9 q-0.8,0.3 -0.8,1.2 v1.6 q0,1.3 1.2,1.6 z" fill="#000"/>
<path d="M651.10,330.1 h1.8 v2.6 q1.2,0.3 1.2,1.6 v1.6 q0,0.9 -0.8,1.2 q2.6,0.5 2.8,2.9 h-8.2 q0.2,-2.4 2.8,-2.9 q-0.8,-0.3 -0.8,-1.2 v-1.6 q0,-1.3 1.2,-1.6 z" fill="#000"/><path d="M651.10,358.2 h1.8 v-2.6 q1.2,-0.3 1.2,-1.6 v-1.6 q0,-0.9 -0.8,-1.2 q2.6,-0.5 2.8,-2.9 h-8.2 q0.2,2.4 2.8,2.9 q-0.8,0.3 -0.8,1.2 v1.6 q0,1.3 1.2,1.6 z" fill="#000"/>
<path d="M807.10,330.1 h1.8 v2.6 q1.2,0.3 1.2,1.6 v1.6 q0,0.9 -0.8,1.2 q2.6,0.5 2.8,2.9 h-8.2 q0.2,-2.4 2.8,-2.9 q-0.8,-0.3 -0.8,-1.2 v-1.6 q0,-1.3 1.2,-1.6 z" fill="#000"/><path d="M807.10,358.2 h1.8 v-2.6 q1.2,-0.3 1.2,-1.6 v-1.6 q0,-0.9 -0.8,-1.2 q2.6,-0.5 2.8,-2.9 h-8.2 q0.2,2.4 2.8,2.9 q-0.8,0.3 -0.8,1.2 v1.6 q0,1.3 1.2,1.6 z" fill="#000"/>
<path d="M425.00,330.1 h1.8 v2.6 q1.2,0.3 1.2,1.6 v1.6 q0,0.9 -0.8,1.2 q2.6,0.5 2.8,2.9 h-8.2 q0.2,-2.4 2.8,-2.9 q-0.8,-0.3 -0.8,-1.2 v-1.6 q0,-1.3 1.2,-1.6 z" fill="#000"/><path d="M425.00,358.2 h1.8 v-2.6 q1.2,-0.3 1.2,-1.6 v-1.6 q0,-0.9 -0.8,-1.2 q2.6,-0.5 2.8,-2.9 h-8.2 q0.2,2.4 2.8,2.9 q-0.8,0.3 -0.8,1.2 v1.6 q0,1.3 1.2,1.6 z" fill="#000"/>
<path d="M470.90,358.2 h1.8 v-2.6 q1.2,-0.3 1.2,-1.6 v-1.6 q0,-0.9 -0.8,-1.2 q2.6,-0.5 2.8,-2.9 h-8.2 q0.2,2.4 2.8,2.9 q-0.8,0.3 -0.8,1.2 v1.6 q0,1.3 1.2,1.6 z" fill="#000"/>
<g class="thin">
<path d="M134.7,348.4 V392.8 M256.9,348.4 V392.8 M417.3,348.4 V392.8 M479.5,348.4 V392.8 M541.3,348.4 V392.8 M664.8,348.4 V392.8 M800,355.4 V392.8 M830.4,372.9 V392.8 M954.5,372.5 V392.8"/>
<path d="M134.7,392.3 H954.5"/>
<path d="M264,365.4 V383.2 M412,365.4 V383.2 M264,382.9 H412"/>
<path d="M954.4,315.4 H967 M954.4,339.5 H967 M954.4,348.79999999999995 H967 M954.4,373 H967 M966.3,315.4 V339.5 M966.3,348.79999999999995 V373"/>
</g>
<text class="dim" x="195.5" y="392" text-anchor="middle" textLength="17.8" lengthAdjust="spacingAndGlyphs">2000</text>
<text class="dim" x="337.6" y="392" text-anchor="middle" textLength="17.8" lengthAdjust="spacingAndGlyphs">2600</text>
<text class="dim" x="448.8" y="392" text-anchor="middle" textLength="17.8" lengthAdjust="spacingAndGlyphs">1000</text>
<text class="dim" x="510.2" y="392" text-anchor="middle" textLength="17.8" lengthAdjust="spacingAndGlyphs">1000</text>
<text class="dim" x="602.7" y="392" text-anchor="middle" textLength="17.8" lengthAdjust="spacingAndGlyphs">2000</text>
<text class="dim" x="732.4" y="392" text-anchor="middle" textLength="17.8" lengthAdjust="spacingAndGlyphs">2200</text>
<text class="dim" x="901.3" y="392" text-anchor="middle" textLength="17.8" lengthAdjust="spacingAndGlyphs">2000</text>
<text class="dim" x="815" y="392" text-anchor="middle" textLength="13.4" lengthAdjust="spacingAndGlyphs">500</text>
<text class="dim" x="337.6" y="382.6" text-anchor="middle" textLength="17.8" lengthAdjust="spacingAndGlyphs">2404</text>
<text class="dim" transform="translate(966.9,326.6) rotate(-90)" text-anchor="middle" textLength="13.6" lengthAdjust="spacingAndGlyphs" style="font-size:10px">400</text>
<text class="dim" transform="translate(966.9,360.5) rotate(-90)" text-anchor="middle" textLength="13.6" lengthAdjust="spacingAndGlyphs" style="font-size:10px">400</text>
<!-- logo -->
<g>
<polygon fill="#d7122d" points="362.4,602.2 372.8,602.2 382,625.2 378.4,633.5 375.6,633.5"/>
<polygon fill="#1f4592" points="391.2,602.2 402,602.2 397.6,613.2 419.6,602.2 431.2,602.2 406.8,617.6 419.2,633.5 407.2,633.5 396.5,621 388.8,633.5 378.4,633.5"/>
<path fill="#1f4592" d="M435.9,602.2 L466,602.2 Q474.2,602.2 473.3,608.6 Q471.5,621.4 460,621.4 L438.6,621.4 L434.3,633.5 L423.5,633.5 L431.4,613.9 L458.5,613.9 Q462,613.9 462.4,611.5 Q462.7,609.2 460,609.2 L433.5,609.2 Z"/>
<polygon fill="#1f4592" points="463.2,633.5 489,602.2 502.8,602.2 502.8,633.5 492.1,633.5 492.1,611 474.1,633.5"/>
<polygon fill="#d7122d" points="477.8,633.5 488.2,633.5 488.2,620.6"/>
<polygon fill="#1f4592" points="519.7,602.2 530,602.2 526,613.4 545.8,602.2 559,602.2 534,618.2 547,633.5 534.5,633.5 522.3,621.6 517.5,633.5 507.2,633.5"/>
</g>
<!-- title block text -->
<text y="617.3" font-family="'Liberation Sans',sans-serif" font-size="30" font-weight="bold" fill="#000" stroke="#000" stroke-width="0.5"><tspan x="597.31" textLength="93.08" lengthAdjust="spacingAndGlyphs">Shanghai</tspan> <tspan x="698.72" textLength="71.5" lengthAdjust="spacingAndGlyphs">BaZhou</tspan> <tspan x="778.14" textLength="91.83" lengthAdjust="spacingAndGlyphs">Industrial</tspan> <tspan x="877.14" textLength="39.19" lengthAdjust="spacingAndGlyphs">Co.,</tspan> <tspan x="923.15" textLength="37.19" lengthAdjust="spacingAndGlyphs">Ltd.</tspan></text>
<text y="639.9" font-family="'Liberation Sans',sans-serif" font-size="18.2" font-weight="normal" fill="#1d3f93" stroke="#1d3f93" stroke-width="0.6"><tspan x="593.37" textLength="65.89" lengthAdjust="spacingAndGlyphs">One-Stop</tspan> <tspan x="665.7" textLength="42.24" lengthAdjust="spacingAndGlyphs">Liquid</tspan> <tspan x="712.64" textLength="42.07" lengthAdjust="spacingAndGlyphs">Bottle</tspan> <tspan x="761.77" textLength="39.08" lengthAdjust="spacingAndGlyphs">Filling</tspan> <tspan x="807.13" textLength="56.97" lengthAdjust="spacingAndGlyphs">Solution</tspan> <tspan x="869.71" textLength="92.49" lengthAdjust="spacingAndGlyphs">Manufacturer</tspan></text>
<text y="688.9" font-family="'Liberation Sans',sans-serif" font-size="34.8" font-weight="normal" fill="#000" stroke="#fff" stroke-width="0.22"><tspan x="392.4" textLength="160.61" lengthAdjust="spacingAndGlyphs">Automatic</tspan> <tspan x="563.36" textLength="83.24" lengthAdjust="spacingAndGlyphs">Salad</tspan> <tspan x="657.3" textLength="134.97" lengthAdjust="spacingAndGlyphs">Dressing</tspan> <tspan x="802.24" textLength="91.15" lengthAdjust="spacingAndGlyphs">Filling</tspan> <tspan x="903.27" textLength="65.25" lengthAdjust="spacingAndGlyphs">Line</tspan></text>
</svg>
</body>
</html>
